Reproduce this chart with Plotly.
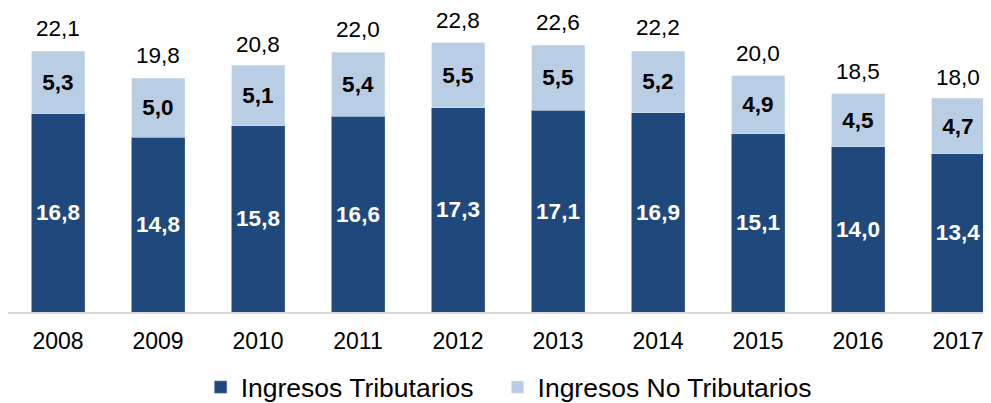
import plotly.graph_objects as go

years = ["2008", "2009", "2010", "2011", "2012", "2013", "2014", "2015", "2016", "2017"]
tributarios = [16.8, 14.8, 15.8, 16.6, 17.3, 17.1, 16.9, 15.1, 14.0, 13.4]
no_tributarios = [5.3, 5.0, 5.1, 5.4, 5.5, 5.5, 5.2, 4.9, 4.5, 4.7]
totales = [22.1, 19.8, 20.8, 22.0, 22.8, 22.6, 22.2, 20.0, 18.5, 18.0]

DARK = "#1F497D"
LIGHT = "#B9CDE5"
FONT = "Liberation Sans, Arial, sans-serif"

fig = go.Figure()
fig.add_trace(go.Bar(
    x=years, y=tributarios, name="Ingresos Tributarios", legend="legend",
    marker=dict(color=DARK, line=dict(color="#4A6C97", width=0.6)),
    texttemplate="<b>%{y:.1f}</b>", textposition="inside", insidetextanchor="middle",
    textfont=dict(family=FONT, size=22.5, color="white"), constraintext="none",
    width=0.53,
))
fig.add_trace(go.Bar(
    x=years, y=no_tributarios, name="Ingresos No Tributarios", legend="legend2",
    marker=dict(color=LIGHT, line=dict(color="#D6E2F0", width=0.6)),
    texttemplate="<b>%{y:.1f}</b>", textposition="inside", insidetextanchor="middle",
    textfont=dict(family=FONT, size=22.5, color="black"), constraintext="none",
    width=0.53,
))

# total labels above each stacked bar (category index used as x position)
for i, tot in enumerate(totales):
    fig.add_annotation(
        xref="x", yref="y", x=i, y=tot, text=f"{tot:.1f}".replace(".", ","),
        showarrow=False, yanchor="bottom", yshift=8,
        font=dict(family=FONT, size=22.5, color="black"),
    )

legend_common = dict(orientation="h", y=-0.248, yanchor="middle", xanchor="left",
                     font=dict(family=FONT, size=26.5, color="black"), itemwidth=30,
                     bgcolor="rgba(0,0,0,0)")

fig.update_layout(
    barmode="stack",
    width=983, height=395,
    margin=dict(l=0, r=0, t=0, b=91, autoexpand=False),
    paper_bgcolor="white", plot_bgcolor="white",
    separators=",.",
    font=dict(family=FONT, size=23, color="black"),
    showlegend=True,
    legend=dict(x=0.196, **legend_common),
    legend2=dict(x=0.498, **legend_common),
    xaxis=dict(type="category", range=[-0.5, 9.33], showline=True, linecolor="#D9D9D9",
               linewidth=1.5, showgrid=False, ticks="outside", ticklen=8,
               tickcolor="rgba(0,0,0,0)", tickfont=dict(family=FONT, size=23, color="black")),
    yaxis=dict(range=[0, 25.76], showgrid=False, showline=False, zeroline=False,
               showticklabels=False, ticks=""),
)

fig.write_html("out.html")
